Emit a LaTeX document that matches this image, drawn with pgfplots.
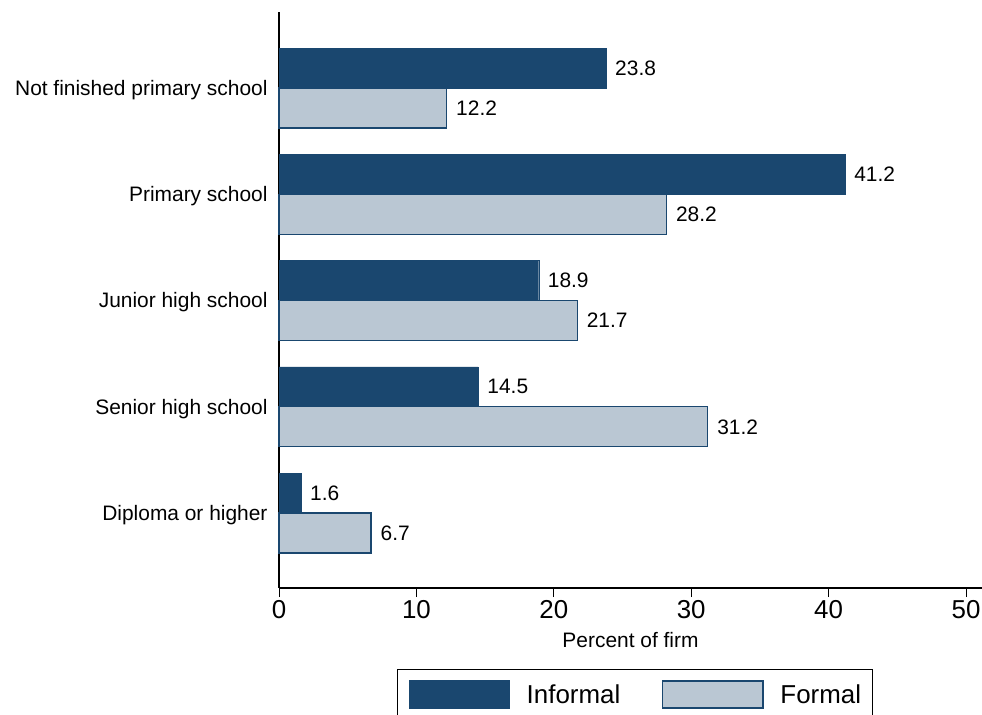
\documentclass[border=0pt]{standalone}
\usepackage{pgfplots}
\pgfplotsset{compat=1.18}
\usepackage{fontspec}
\setmainfont{Liberation Sans}
\definecolor{navy}{RGB}{26,71,111}
\definecolor{lightg}{RGB}{186,199,211}
\begin{document}
\begin{tikzpicture}
\useasboundingbox (0,0) rectangle (982bp,-715bp);
\begin{axis}[
  at={(279bp,-588bp)}, anchor=south west,
  scale only axis,
  width=703bp, height=576bp,
  xbar,
  y dir=reverse,
  xmin=0, xmax=51.16,
  ymin=-0.715, ymax=4.705,
  bar width=0.376,
  axis x line*=bottom, axis y line*=left,
  axis line style={line width=1.3bp, black},
  xtick={0,10,20,30,40,50},
  ytick={0,1,2,3,4},
  yticklabels={Not finished primary school, Primary school, Junior high school, Senior high school, Diploma or higher},
  /pgf/number format/assume math mode=true,
  tick align=outside,
  x tick style={line width=1bp, black},
  major tick length=9bp,
  y tick style={draw=none},
  xticklabel style={font=\fontsize{26}{30}\selectfont, inner sep=3bp},
  yticklabel style={font=\fontsize{21}{25}\selectfont, xshift=1bp, yshift=-2bp},
  xlabel={Percent of firm},
  xlabel style={font=\fontsize{21}{25}\selectfont, inner sep=0bp, yshift=-11bp},
  nodes near coords={\pgfmathprintnumber[fixed,fixed zerofill,precision=1,assume math mode=true]{\pgfplotspointmeta}},
  nodes near coords style={font=\fontsize{21}{25}\selectfont, anchor=west, inner xsep=9bp},
  legend columns=2,
  legend style={at={(axis description cs:0.1679,-0.1406)}, anchor=north west,
    draw=black, line width=1bp, inner xsep=11bp, inner ysep=11bp,
    font=\fontsize{26}{30}\selectfont,
    nodes={inner xsep=0bp, inner ysep=0bp, line width=1bp},
    /tikz/every odd column/.append style={column sep=17bp},
    /tikz/every even column/.append style={column sep=42bp}},
  legend image code/.code={\draw[#1, line width=1.2bp] (0bp,-13.5bp) rectangle (100bp,13.5bp);},
  clip=false,
]
\addplot[fill=navy, draw=navy, bar shift=-0.188] coordinates {(23.8,0) (41.2,1) (18.9,2) (14.5,3) (1.6,4)};
\addplot[fill=lightg, draw=navy, line width=1.2bp, bar shift=0.188] coordinates {(12.2,0) (28.2,1) (21.7,2) (31.2,3) (6.7,4)};
\legend{Informal, Formal}
\end{axis}
\end{tikzpicture}
\end{document}
